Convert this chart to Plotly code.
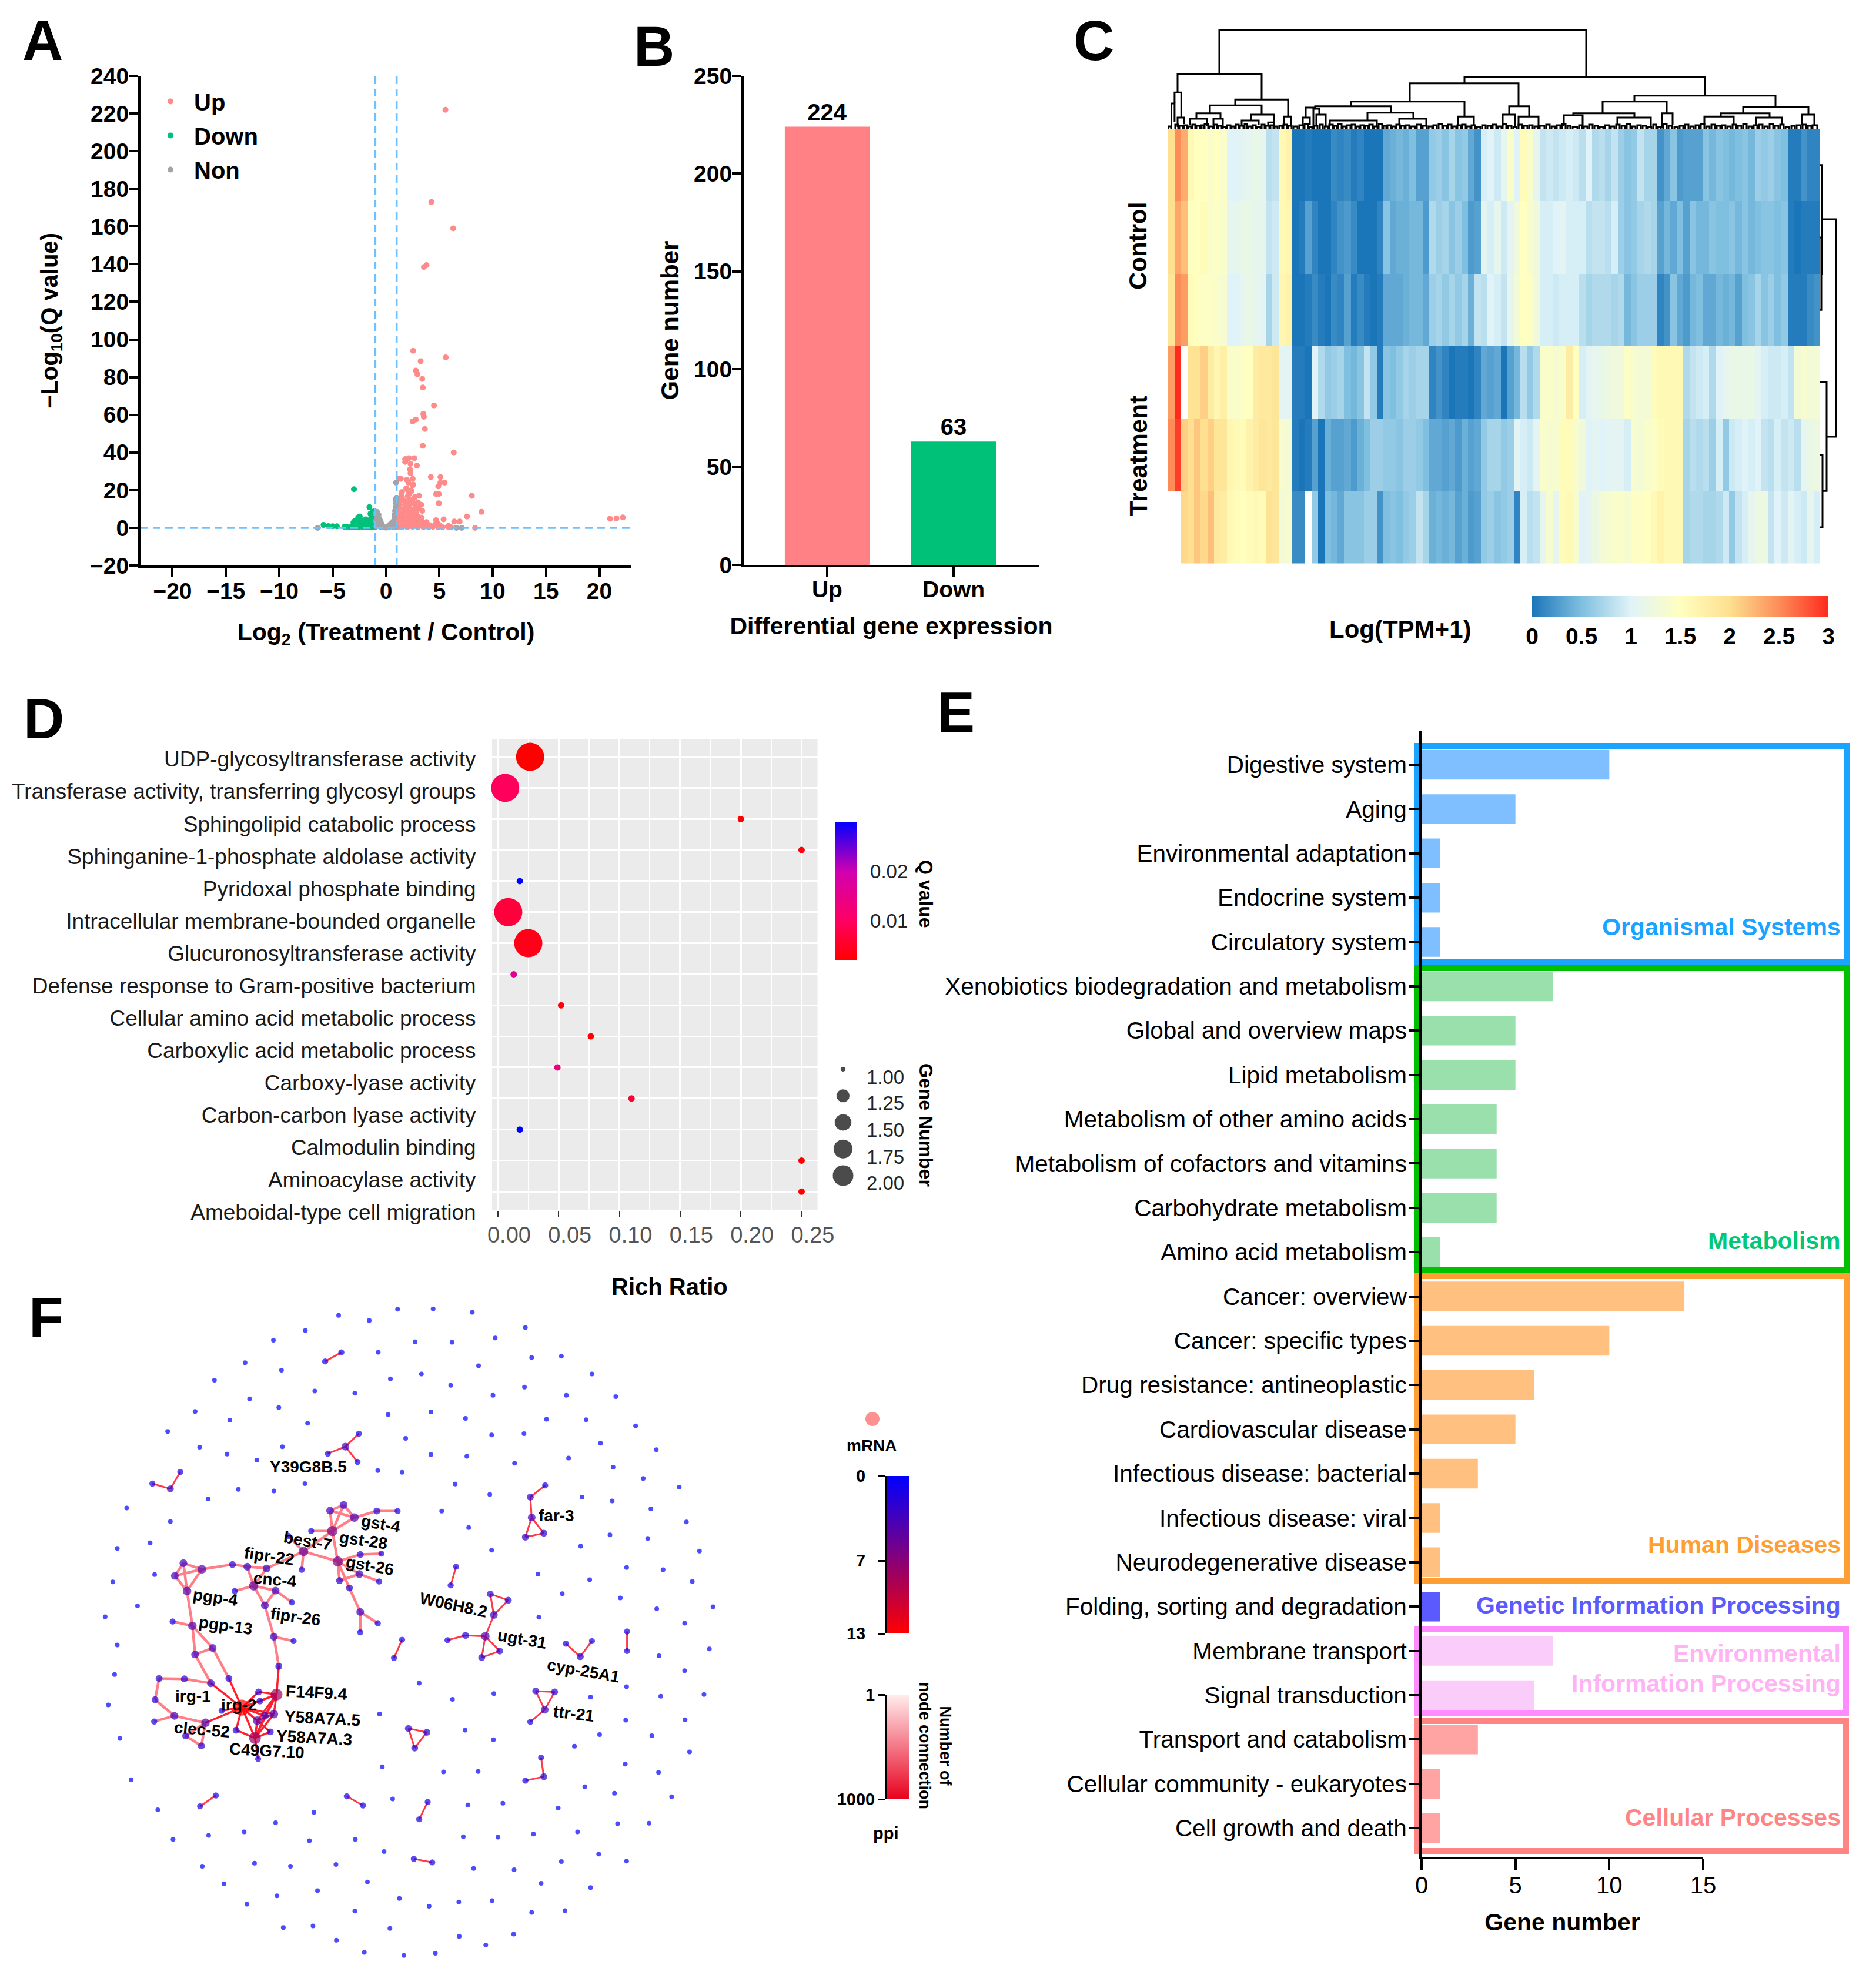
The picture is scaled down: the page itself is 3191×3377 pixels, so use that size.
"""Six-panel transcriptome figure: volcano, DEG bars, heatmap, GO bubbles, KEGG bars, PPI network."""

from collections import Counter

import plotly.graph_objects as go

W, H = 3191, 3377
FONT = "Liberation Sans"

# A: volcano, (log2 fold change, -log10 Q)
up_points = [
    (5.57, 222), (4.25, 173), (6.3, 159), (3.8, 139.5), (3.55, 138.5), (2.55, 94), (3.25, 88.5), (5.6, 90.5),
    (2.8, 83.5), (2.95, 81.5), (3.4, 79), (3.45, 74.5), (4.5, 65), (3.5, 60.5), (3.55, 59), (2.8, 57.5),
    (2.5, 56.5), (3.65, 52.5), (3.45, 43.5), (6.35, 40), (2.65, 37), (2.15, 37), (1.8, 36.5), (2.3, 34),
    (2.9, 33), (1.8, 35), (2.25, 31), (2.3, 29), (4.2, 27), (5.1, 27), (1.4, 26), (1.2, 26), (5.1, 24),
    (5.5, 24), (1.95, 25.5), (2.5, 26), (2.1, 24), (2.55, 23), (4.9, 22), (8.05, 17), (4.7, 18), (4.95, 18),
    (4.95, 13), (8.95, 8.5), (7.6, 6), (5.4, 4.5), (6.4, 3.3), (6.9, 3.3), (8.35, 0), (4.7, 4), (5.85, 1),
    (4.9, 2), (21.0, 4.8), (21.6, 5), (22.2, 5.5),
    (1.1, 0.3), (1.5, 0.4), (2.0, 0.3), (2.5, 0.5), (3.0, 0.3), (3.5, 0.4), (4.0, 0.3), (4.4, 0.5), (4.9, 0.4),
    (5.3, 0.3), (5.8, 0.6), (6.1, 0.3), (1.1, 1.8), (1.45, 2.1), (1.9, 1.7), (2.35, 2.2), (2.8, 1.9), (3.2, 1.6),
    (3.7, 2.0), (4.1, 1.4), (4.6, 1.7), (5.0, 1.3), (1.15, 3.9), (1.6, 4.2), (2.05, 3.8), (2.5, 4.1), (2.95, 3.7),
    (3.4, 3.3), (3.8, 3.0), (1.2, 6.0), (1.65, 5.8), (2.1, 6.2), (2.55, 5.7), (3.0, 6.1), (3.35, 5.4), (1.1, 8.1),
    (1.5, 7.8), (1.95, 8.3), (2.4, 7.9), (2.85, 8.2), (3.4, 9.0), (1.2, 10.2), (1.7, 9.9), (2.15, 10.3), (2.6, 9.8),
    (3.0, 10.4), (1.3, 12.1), (1.8, 12.4), (2.2, 12.0), (2.7, 12.5), (3.3, 12.2), (1.3, 14.2), (1.7, 14.5),
    (2.15, 14.1), (2.5, 15.0), (3.0, 13.5), (1.5, 16.5), (2.05, 16.8), (2.2, 18), (1.5, 19), (1.45, 18.2),
    (2.7, 16.3), (3.1, 17), (2.05, 20), (2.5, 22.5), (2.4, 19.5), (1.9, 21),
]
down_points = [
    (-1.05, 0.3), (-1.4, 0.4), (-1.8, 0.3), (-2.2, 0.4), (-2.6, 0.3), (-3, 0.4), (-3.4, 0.3), (-1.1, 1.8),
    (-1.5, 2), (-1.9, 1.7), (-2.3, 1.9), (-2.7, 1.5), (-3.05, 1.3), (-1.05, 3.5), (-1.4, 3.8), (-1.8, 3.3),
    (-2.2, 3.4), (-2.6, 3), (-1.1, 5), (-1.4, 5.2), (-1.9, 4.5), (-2.6, 5.5), (-2.45, 6), (-1.15, 7), (-1.45, 7.5),
    (-1.1, 8.8), (-1.25, 8.5), (-1.55, 11), (-3, 20.5), (-2.95, 3.5), (-3.05, 2.8), (-3.9, 0.5), (-3.7, 0.6),
    (-4.6, 0.8), (-5, 0.8), (-5.4, 0.9), (-5.85, 1.5),
]
non_points = [
    (-0.95, 7.5), (-0.85, 8.5), (-0.8, 7.5), (-0.7, 7), (-0.7, 5.5), (-0.85, 5), (-0.95, 3.5), (-0.6, 4.5),
    (-0.5, 3.5), (-0.8, 2.5), (-0.4, 2), (-0.6, 1.5), (-0.9, 0.8), (-0.3, 1), (-0.5, 0.4), (-0.2, 0.3), (0, 0.1),
    (0.15, 0.2), (0.3, 0.3), (0.2, 0.9), (0.4, 1.8), (0.55, 2.5), (0.6, 1), (0.7, 3.5), (0.8, 5.5), (0.85, 1.5),
    (0.8, 7), (0.85, 9), (0.9, 11), (0.95, 13), (0.95, 14.5), (1.0, 16), (0.9, 15), (0.95, 24), (0.9, 0.5),
    (0.7, 0.3), (-6.4, 0), (6.6, 0), (7.1, 0),
]

# B: DEG counts
deg_labels = ["Up", "Down"]
deg_counts = [224, 63]

# C: heatmap, one list per sample, blocks of genes left to right
control_1 = [
    2.0, 2.5, 2.3, 1.6, 1.5, 1.5, 1.4, 1.5, 1.4, 1.0,
    1.0, 1.05, 1.1, 1.15, 1.1, 0.8, 0.85, 1.6, 1.7, 0,
    0, 0.05, 0, 0, 0, 0.15, 0.1, 0.15, 0.05, 0.1,
    0, 0, 0, 0.35, 0.4, 0.45, 0.4, 0.5, 0.3, 0.3,
    0.6, 0.65, 0.55, 0.7, 0.55, 0.6, 0.35, 0.2, 0.95, 1.0,
    0.9, 1.1, 1.4, 1.0, 1.55, 1.4, 1.1, 0.85, 0.9, 0.85,
    0.9, 0.95, 0.9, 0.8, 1.0, 0.75, 0.8, 0.7, 0.85, 0.65,
    0.55, 0.6, 0.85, 0.7, 0.7, 0.2, 0.35, 0.55, 0.25, 0.3,
    0.3, 0.3, 0.55, 0.45, 0.55, 0.5, 0.45, 0.5, 0.55, 0.45,
    0.65, 0.6, 0.65, 0.55, 0.5, 0.05, 0.05, 0.2, 0.1, 0.1,
]
control_2 = [
    2.0, 2.35, 2.2, 1.5, 1.5, 1.55, 1.4, 1.45, 1.4, 1.1,
    1.1, 1.15, 1.15, 1.1, 1.1, 0.85, 0.9, 1.6, 1.65, 0,
    0.05, 0.3, 0.1, 0, 0, 0.1, 0.2, 0.25, 0.15, 0,
    0, 0, 0.1, 0.55, 0.35, 0.4, 0.4, 0.45, 0.45, 0.25,
    0.75, 0.65, 0.7, 0.55, 0.65, 0.5, 0.25, 0.3, 1.05, 0.95,
    1.1, 0.9, 1.05, 1.25, 1.5, 1.35, 1.25, 0.95, 0.95, 1.0,
    1.05, 0.95, 0.95, 0.95, 0.8, 0.85, 0.85, 0.8, 0.95, 0.65,
    0.55, 0.6, 0.7, 0.75, 0.7, 0.3, 0.45, 0.35, 0.5, 0.3,
    0.55, 0.45, 0.45, 0.55, 0.5, 0.5, 0.55, 0.45, 0.55, 0.45,
    0.5, 0.55, 0.55, 0.5, 0.55, 0.05, 0, 0.05, 0.05, 0.05,
]
control_3 = [
    1.9, 2.5, 2.4, 1.55, 1.5, 1.45, 1.45, 1.4, 1.35, 1.0,
    1.0, 1.1, 1.15, 1.1, 1.05, 0.7, 0.9, 1.65, 1.7, 0,
    0, 0.05, 0.15, 0.05, 0, 0.15, 0.1, 0.3, 0.05, 0.15,
    0.05, 0, 0.05, 0.35, 0.35, 0.35, 0.4, 0.45, 0.45, 0.35,
    0.65, 0.7, 0.6, 0.7, 0.6, 0.7, 0.4, 0.85, 0.8, 1.0,
    0.95, 0.85, 1.1, 1.3, 1.5, 1.45, 1.25, 0.95, 0.95, 0.9,
    0.95, 0.95, 0.95, 0.8, 0.7, 0.75, 0.75, 0.75, 0.7, 0.75,
    0.45, 0.55, 0.65, 0.65, 0.65, 0.1, 0.2, 0.55, 0.35, 0.25,
    0.45, 0.5, 0.35, 0.35, 0.45, 0.4, 0.45, 0.3, 0.5, 0.55,
    0.7, 0.55, 0.65, 0.5, 0.6, 0.05, 0.05, 0.05, 0.15, 0.2,
]
treatment_1 = [
    2.4, 3.0, None, 1.95, 1.95, 2.1, 1.8, 1.65, 1.75, 1.4,
    1.4, 1.45, 1.5, 1.8, 1.85, 1.85, 1.9, 1.05, 1.05, 0.05,
    0.05, 0, 1.0, 0.75, 0.6, 0.65, 0.7, 0.5, 0.45, 0.55,
    0.85, 0.6, 0.05, 0.55, 0.5, 0.6, 0.7, 0.65, 0.7, 0.7,
    0.1, 0.2, 0.1, 0, 0.05, 0.05, 0, 0.1, 0.35, 0.3,
    0.35, 0, 0.3, 0.45, 0.8, 0.6, 0.75, 1.4, 1.4, 1.35,
    1.4, 1.8, 1.5, 0.95, 1.05, 1.1, 1.15, 1.2, 1.25, 1.25,
    1.45, 1.35, 1.3, 1.3, 1.55, 1.6, 1.6, 1.6, 1.6, 0.75,
    0.85, 0.9, 0.95, 0.75, 1.0, 1.1, 1.15, 1.15, 1.15, 1.15,
    1.05, 0.95, 0.9, 0.9, 0.95, 0.85, 1.3, 1.35, 1.3, 1.3,
]
treatment_2 = [
    2.5, 2.9, 2.1, 2.0, 2.15, 2.0, 2.1, 1.9, 1.9, 1.65,
    1.6, 1.55, 1.7, 1.8, 1.9, 1.85, 1.9, 1.35, 1.3, 0.05,
    0, 0.05, 0.3, 0, 0.4, 0.3, 0.3, 0.35, 0.25, 0.4,
    0.5, 0.65, 0.65, 0.6, 0.6, 0.55, 0.65, 0.65, 0.6, 0.5,
    0.35, 0.35, 0.3, 0.35, 0.25, 0.4, 0.3, 0.35, 0.6, 0.7,
    0.7, 0.6, 0.65, 1.05, 0.95, 0.9, 1.05, 1.4, 1.35, 1.35,
    1.55, 1.55, 1.35, 1.25, 1.0, 1.05, 1.0, 1.05, 1.05, 1.05,
    0.95, 1.35, 1.3, 1.4, 1.45, 1.55, 1.6, 1.6, 1.6, 0.7,
    0.8, 0.75, 0.8, 0.65, 0.95, 0.6, 0.9, 0.95, 1.0, 0.95,
    1.0, 0.85, 0.8, 0.95, 0.85, 0.9, 0.8, 1.1, 1.15, 1.2,
]
treatment_3 = [
    None, None, 2.05, 2.0, 2.15, 2.05, 2.2, 1.85, 1.8, 1.6,
    1.55, 1.5, 1.55, 1.6, 1.55, 1.95, 1.9, 1.3, 1.35, 0.15,
    0.15, None, 0.6, 0, 0.5, 0.45, 0.35, 0.55, 0.55, 0.55,
    0.65, 0.65, 0.2, 0.5, 0.55, 0.5, 0.6, 0.65, 0.85, 0.7,
    0.4, 0.45, 0.4, 0.45, 0.3, 0.4, 0.25, 0.3, 0.6, 0.65,
    0.55, 0.6, 0.65, 0.1, 0.95, 0.8, 0.85, 1.1, 1.35, 1.1,
    1.55, 1.6, 1.35, 1.0, 1.05, 1.2, 1.3, 1.35, 1.4, 1.4,
    1.35, 1.45, 1.45, 1.5, 1.6, 1.7, 1.6, 1.6, 1.6, 0.7,
    0.75, 0.75, 0.7, 0.7, 0.75, 0.9, 0.6, 0.85, 0.95, 1.1,
    1.2, 1.2, 0.85, 1.0, 0.9, 1.05, 0.95, 0.9, 1.1, 0.95,
]
samples = ["Control 1", "Control 2", "Control 3", "Treatment 1", "Treatment 2", "Treatment 3"]
heat_ticks = [0, 0.5, 1, 1.5, 2, 2.5, 3]

# C: gene dendrogram, (left leaf pos, right leaf pos, left height, right height, merge height)
gene_merges = [
    (87, 711, 93, 88, 168), (16, 159, 61.7, 49.7, 93), (10.9, 22.3, 43, 19, 61.7), (5.5, 10.9, 2, 12, 43),
    (16, 27, 3, 8, 19), (114, 204, 39.7, 20.7, 49.7), (71, 159, 26.3, 24, 39.7), (197, 209, 4, 6, 20.7),
    (48, 89, 17, 17, 26.3), (141, 180, 14, 10.7, 24), (37, 66, 6, 5, 17), (77, 93, 7, 4, 17), (125, 154, 5, 6, 14),
    (170, 180, 4, 4, 10.7), (504, 913, 77.3, 56.3, 88), (411, 596, 46.3, 38.3, 77.3), (311, 504, 38.3, 20.7, 46.3),
    (250, 379, 36, 27.3, 38.3), (234, 250, 19, 34, 36), (229, 241, 4, 6, 19), (247, 257, 2, 24, 34),
    (252, 268, 6, 5, 24), (339, 417, 14, 17, 27.3), (275, 355, 5, 5, 14), (393, 439, 6, 6, 17), (493, 520, 6, 6, 20.7),
    (580, 614, 24, 20.7, 38.3), (569, 590, 5, 5, 24), (596, 630, 5, 5, 20.7), (793, 1033, 46.3, 36.7, 56.3),
    (739, 848, 26.3, 26.3, 46.3), (689, 793, 23, 19, 26.3), (673, 705, 5, 5, 23), (764, 821, 6, 5, 19),
    (840, 858, 1, 6, 26.3), (978, 1089, 26.3, 24, 36.7), (940, 1023, 20.7, 19, 26.3), (1078, 1099, 7, 7, 24),
    (912, 962, 6, 6, 20.7), (1000, 1044, 6, 6, 19),
]
gene_leaves = [
    (0, 5, 4), (12, 17, 7), (19, 25, 5), (27, 32, 6), (34, 39, 4), (41, 46, 7), (48, 54, 5), (56, 60, 6), (62, 68, 8),
    (70, 76, 4), (78, 83, 7), (85, 91, 5), (93, 98, 3), (100, 106, 6), (108, 113, 4), (115, 120, 7), (122, 128, 5),
    (130, 134, 8), (136, 142, 4), (144, 149, 6), (151, 157, 3), (159, 164, 7), (166, 172, 5), (174, 179, 6),
    (181, 186, 4), (189, 194, 5), (196, 202, 7), (204, 210, 5), (213, 220, 4), (223, 230, 6), (232, 238, 8),
    (240, 245, 3), (248, 254, 5), (258, 263, 7), (266, 272, 4), (274, 280, 7), (282, 287, 5), (289, 295, 8),
    (297, 302, 4), (304, 310, 6), (312, 318, 7), (320, 325, 4), (327, 333, 6), (335, 340, 5), (342, 348, 7),
    (350, 356, 4), (358, 364, 8), (366, 371, 5), (373, 379, 6), (381, 386, 4), (388, 394, 7), (396, 402, 5),
    (404, 410, 6), (413, 420, 4), (423, 430, 7), (433, 440, 5), (443, 449, 4), (451, 457, 6), (460, 466, 8),
    (468, 474, 5), (476, 482, 7), (484, 490, 4), (492, 498, 6), (500, 506, 7), (508, 514, 4), (516, 522, 6),
    (525, 531, 3), (534, 540, 6), (543, 549, 5), (552, 558, 7), (561, 567, 4), (569, 575, 8), (578, 584, 5),
    (587, 593, 3), (596, 602, 7), (605, 611, 5), (614, 620, 6), (623, 629, 4), (632, 640, 5), (643, 649, 7),
    (652, 658, 4), (661, 667, 6), (670, 676, 8), (679, 684, 5), (688, 696, 3), (699, 704, 6), (707, 713, 4),
    (716, 722, 7), (725, 731, 5), (734, 740, 3), (743, 750, 6), (753, 759, 4), (762, 768, 7), (771, 777, 5),
    (780, 786, 8), (789, 795, 4), (798, 804, 6), (807, 813, 5), (816, 822, 3), (825, 830, 7), (833, 838, 3),
    (842, 848, 8), (851, 857, 5), (861, 867, 3), (870, 876, 5), (879, 885, 7), (888, 894, 4), (897, 903, 6),
    (906, 912, 8), (915, 921, 4), (924, 930, 7), (933, 939, 5), (942, 948, 6), (951, 957, 4), (960, 966, 7),
    (969, 975, 5), (978, 984, 8), (987, 993, 4), (996, 1002, 6), (1005, 1011, 7), (1014, 1020, 4), (1023, 1029, 8),
    (1032, 1038, 5), (1041, 1047, 7), (1050, 1056, 3), (1060, 1066, 5), (1069, 1076, 6), (1079, 1085, 7),
    (1088, 1094, 5), (1096, 1104, 6),
]
# C: sample dendrogram, (left distance, right distance, upper row, lower row, merge distance)
sample_merges = [
    (0, 0, 1, 2, 2), (0, 2, 0, 1.5, 3.5), (0, 0, 4, 5, 4), (0, 4, 3, 4.5, 11), (3.5, 11, 0.75, 3.75, 27),
]

# D: GO enrichment bubbles
go_terms = [
    "UDP-glycosyltransferase activity", "Transferase activity, transferring glycosyl groups",
    "Sphingolipid catabolic process", "Sphinganine-1-phosphate aldolase activity", "Pyridoxal phosphate binding",
    "Intracellular membrane-bounded organelle", "Glucuronosyltransferase activity",
    "Defense response to Gram-positive bacterium", "Cellular amino acid metabolic process",
    "Carboxylic acid metabolic process", "Carboxy-lyase activity", "Carbon-carbon lyase activity",
    "Calmodulin binding", "Aminoacylase activity", "Ameboidal-type cell migration",
]
rich_ratio = [0.0265, 0.006, 0.2, 0.25, 0.018, 0.0085, 0.025, 0.013, 0.052, 0.0765, 0.049, 0.11, 0.018, 0.25, 0.25]
go_q = [0.002, 0.0095, 0.002, 0.003, 0.03, 0.007, 0.004, 0.016, 0.003, 0.002, 0.014, 0.006, 0.03, 0.002, 0.002]
go_genes = [2, 2, 1, 1, 1, 2, 2, 1, 1, 1, 1, 1, 1, 1, 1]
rich_ticks = [0, 0.05, 0.1, 0.15, 0.2, 0.25]
size_key = [1.0, 1.25, 1.5, 1.75, 2.0]

# E: KEGG pathway counts
kegg_terms = [
    "Digestive system", "Aging", "Environmental adaptation", "Endocrine system", "Circulatory system",
    "Xenobiotics biodegradation and metabolism", "Global and overview maps", "Lipid metabolism",
    "Metabolism of other amino acids", "Metabolism of cofactors and vitamins", "Carbohydrate metabolism",
    "Amino acid metabolism", "Cancer: overview", "Cancer: specific types", "Drug resistance: antineoplastic",
    "Cardiovascular disease", "Infectious disease: bacterial", "Infectious disease: viral",
    "Neurodegenerative disease", "Folding, sorting and degradation", "Membrane transport", "Signal transduction",
    "Transport and catabolism", "Cellular community - eukaryotes", "Cell growth and death",
]
kegg_counts = [10, 5, 1, 1, 1, 7, 5, 5, 4, 4, 4, 1, 14, 10, 6, 5, 3, 1, 1, 1, 7, 6, 3, 1, 1]
kegg_groups = [5, 7, 7, 1, 2, 3]
kegg_colors = ["#7fbfff", "#99e0ad", "#ffc080", "#5a5aff", "#f9ccf9", "#ffa3a3"]

# F: PPI network, node positions are layout coordinates
isolated_nodes = [
    (622, 51), (753, 37), (832, 36), (919, 44), (690, 63), (548, 86), (1037, 79), (477, 108), (970, 103), (792, 112),
    (874, 113), (710, 136), (1051, 148), (1117, 145), (414, 160), (495, 177), (933, 167), (1185, 186), (346, 200),
    (806, 186), (737, 197), (871, 212), (1035, 216), (569, 225), (658, 230), (965, 235), (1128, 235), (1238, 238),
    (424, 243), (489, 263), (303, 272), (827, 273), (732, 279), (904, 288), (1084, 290), (1172, 291), (380, 292),
    (553, 299), (1282, 305), (242, 318), (771, 334), (962, 326), (1034, 323), (1204, 345), (313, 354), (497, 353),
    (1328, 360), (374, 370), (907, 375), (827, 371), (1133, 379), (440, 384), (1013, 391), (1232, 400), (709, 408),
    (763, 412), (547, 438), (881, 439), (1299, 426), (399, 451), (478, 455), (1379, 446), (958, 463), (1163, 469),
    (332, 473), (1230, 478), (151, 494), (1316, 496), (851, 501), (1395, 526), (248, 525), (911, 539), (1225, 556),
    (1309, 564), (203, 574), (1160, 582), (962, 591), (130, 587), (1424, 593), (213, 647), (1262, 631), (1343, 636),
    (1065, 646), (1180, 659), (120, 664), (1408, 663), (1119, 691), (175, 719), (1248, 701), (1454, 721), (1329, 726),
    (103, 744), (1067, 745), (1391, 759), (130, 809), (1334, 834), (1446, 818), (124, 877), (801, 897), (1391, 868),
    (1262, 905), (110, 947), (875, 934), (967, 921), (1182, 929), (1338, 927), (1434, 923), (713, 968), (1260, 982),
    (1392, 981), (903, 1005), (966, 1027), (1202, 1015), (1318, 1018), (136, 1024), (1146, 1042), (1402, 1055),
    (719, 1089), (1259, 1083), (1333, 1102), (855, 1101), (932, 1100), (161, 1119), (1169, 1135), (1235, 1150),
    (1362, 1158), (742, 1163), (909, 1177), (987, 1173), (1110, 1184), (220, 1188), (567, 1194), (1242, 1220),
    (1312, 1219), (482, 1218), (1153, 1239), (412, 1239), (1055, 1244), (333, 1247), (254, 1256), (899, 1250),
    (976, 1251), (557, 1259), (659, 1256), (723, 1284), (1200, 1290), (1262, 1306), (1117, 1307), (319, 1318),
    (435, 1311), (515, 1318), (616, 1314), (922, 1323), (1012, 1326), (1072, 1357), (1182, 1367), (367, 1358),
    (686, 1354), (485, 1386), (575, 1374), (757, 1392), (418, 1405), (889, 1400), (963, 1397), (823, 1410), (658, 1421),
    (1051, 1424), (1125, 1420), (499, 1459), (565, 1455), (736, 1461), (1011, 1474), (890, 1479), (617, 1488),
    (949, 1499), (679, 1516), (767, 1523), (837, 1518),
]
edges_small = [
    ((592, 157), (628, 136)), ((598, 369), (637, 353)), ((637, 353), (667, 323)), ((637, 353), (664, 388)),
    ((208, 438), (248, 450)), ((248, 450), (270, 411)), ((1081, 442), (1048, 469)), ((1048, 469), (1051, 516)),
    ((1051, 516), (1037, 561)), ((1051, 516), (1078, 552)), ((1037, 561), (1078, 552)), ((883, 629), (871, 672)),
    ((959, 692), (999, 706)), ((959, 692), (967, 740)), ((999, 706), (967, 740)), ((967, 740), (948, 789)),
    ((948, 789), (904, 787)), ((904, 787), (864, 798)), ((948, 789), (940, 838)), ((948, 789), (980, 823)),
    ((940, 838), (980, 823)), ((763, 797), (745, 839)), ((1127, 806), (1159, 836)), ((1185, 800), (1159, 836)),
    ((1263, 778), (1263, 823)), ((1060, 915), (1102, 917)), ((1060, 915), (1080, 958)), ((1102, 917), (1080, 958)),
    ((1080, 958), (1048, 986)), ((777, 1001), (818, 1010)), ((777, 1001), (791, 1046)), ((818, 1010), (791, 1046)),
    ((1072, 1068), (1078, 1112)), ((1078, 1112), (1037, 1121)), ((349, 1155), (314, 1180)), ((640, 1157), (676, 1178)),
    ((820, 1170), (801, 1210)), ((789, 1301), (830, 1309)),
]
edges_module = [
    ((603, 500), (633, 487)), ((603, 500), (657, 516)), ((633, 487), (657, 516)), ((603, 500), (608, 547)),
    ((633, 487), (608, 547)), ((657, 516), (608, 547)), ((657, 516), (707, 501)), ((707, 501), (753, 501)),
    ((561, 547), (608, 547)), ((608, 547), (544, 594)), ((608, 547), (620, 617)), ((544, 594), (620, 617)),
    ((544, 594), (510, 558)), ((544, 594), (540, 636)), ((544, 594), (462, 633)), ((620, 617), (670, 601)),
    ((670, 601), (717, 599)), ((620, 617), (668, 646)), ((668, 646), (712, 663)), ((620, 617), (624, 661)),
    ((624, 661), (668, 646)), ((620, 617), (646, 678)), ((646, 678), (670, 733)), ((670, 733), (709, 759)),
    ((670, 733), (670, 780)), ((462, 633), (419, 629)), ((419, 629), (386, 624)), ((386, 624), (318, 635)),
    ((318, 635), (277, 621)), ((277, 621), (258, 650)), ((258, 650), (318, 635)), ((277, 621), (285, 685)),
    ((258, 650), (285, 685)), ((318, 635), (285, 685)), ((285, 685), (297, 765)), ((253, 755), (297, 765)),
    ((419, 629), (433, 673)), ((462, 633), (433, 673)), ((391, 685), (433, 673)), ((433, 673), (482, 684)),
    ((482, 684), (518, 711)), ((433, 673), (458, 718)), ((482, 684), (458, 718)), ((458, 718), (478, 790)),
    ((478, 790), (522, 800)), ((478, 790), (489, 858)), ((297, 765), (303, 831)), ((297, 765), (342, 816)),
    ((303, 831), (342, 816)), ((303, 831), (338, 897)), ((342, 816), (378, 886)), ((338, 897), (279, 887)),
    ((279, 887), (223, 886)), ((223, 886), (214, 935)), ((214, 935), (257, 972)), ((257, 972), (212, 985)),
    ((257, 972), (326, 988)), ((326, 988), (282, 1018)), ((282, 1018), (317, 1041)), ((326, 988), (317, 1041)),
]
edges_core = [
    ((489, 858), (484, 923)), ((378, 886), (407, 953)), ((338, 897), (407, 953)), ((326, 988), (407, 953)),
    ((362, 960), (407, 953)), ((394, 1005), (407, 953)), ((407, 953), (444, 917)), ((407, 953), (447, 938)),
    ((407, 953), (484, 923)), ((407, 953), (478, 968)), ((407, 953), (458, 972)), ((407, 953), (441, 983)),
    ((407, 953), (470, 1009)), ((407, 953), (436, 1023)), ((444, 917), (484, 923)), ((484, 923), (441, 983)),
    ((484, 923), (458, 972)), ((484, 923), (478, 968)), ((484, 923), (436, 1023)), ((441, 983), (436, 1023)),
    ((458, 972), (436, 1023)), ((478, 968), (436, 1023)), ((470, 1009), (436, 1023)), ((394, 1005), (436, 1023)),
    ((436, 1023), (443, 1071)), ((441, 983), (478, 968)), ((447, 938), (484, 923)),
]
net_labels = ["Y39G8B.5", "far-3", "gst-4", "gst-28", "best-7", "fipr-22", "gst-26", "cnc-4", "pgp-4", "fipr-26", "pgp-13",
              "W06H8.2", "ugt-31", "cyp-25A1", "ttr-21", "F14F9.4", "irg-1", "irg-2", "Y58A7A.5", "Y58A7A.3", "clec-52",
              "C49G7.10"]
net_label_x = [555, 1106, 715, 677, 553, 468, 691, 481, 348, 527, 371, 877, 1029, 1166, 1144, 573, 299, 401, 586, 568, 318, 463]
net_label_y = [400, 511, 531, 568, 570, 605, 626, 659, 700, 744, 764, 717, 796, 869, 967, 918, 926, 947, 978, 1023, 1003, 1052]
net_label_angle = [0, 0, 10, 8, 10, 8, 10, 5, 8, 8, 8, 12, 10, 10, 7, 3, 0, 0, 3, 3, 5, 3]
degree_scale = list(range(14))
score_scale = [1, 100, 200, 300, 400, 500, 600, 700, 800, 900, 1000]


def dom_x(left, right):
    return [left / W, right / W]


def dom_y(top, bottom):
    return [1 - bottom / H, 1 - top / H]


def text_font(size, bold=True, color="black"):
    return dict(family=FONT, size=size, color=color, weight=700 if bold else 400)


def split(points):
    return [p[0] for p in points], [p[1] for p in points]


def merge_lines(merges):
    xs, ys = [], []
    for xl, xr, yl, yr, top in merges:
        xs += [xl, xl, xr, xr, None]
        ys += [yl, top, top, yr, None]
    return xs, ys


def edge_lines(edges):
    xs, ys = [], []
    for a, b in edges:
        xs += [a[0], b[0], None]
        ys += [a[1], b[1], None]
    return xs, ys


fig = go.Figure()


def note(text, x, y, size, bold=True, angle=0, color="black", anchor="center"):
    fig.add_annotation(
        text=text, x=x / W, y=1 - y / H, xref="paper", yref="paper", showarrow=False, textangle=angle,
        font=text_font(size, bold, color), xanchor=anchor, yanchor="middle",
    )


black_axis = dict(
    showline=True, linecolor="black", linewidth=4, ticks="outside", tickcolor="black", tickwidth=4, ticklen=16,
    showgrid=False, zeroline=False, tickfont=text_font(39),
)
hidden = dict(visible=False, showgrid=False, zeroline=False)

# ---- A
for name, pts, color in [("Up", up_points, "#ff8a8a"), ("Down", down_points, "#00c17c"), ("Non", non_points, "#a3a3a8")]:
    px, py = split(pts)
    fig.add_trace(go.Scatter(x=px, y=py, mode="markers", name=name, legendgroup=name, cliponaxis=False,
                             marker=dict(color=color, size=10)))
for lx, ly in [([-1, -1], [-20, 240]), ([1, 1], [-20, 240]), ([-23, 23], [0, 0])]:
    fig.add_trace(go.Scatter(x=lx, y=ly, mode="lines", showlegend=False, hoverinfo="skip",
                             line=dict(color="#6ec1ff", width=3.5, dash="13px,8px")))

# ---- B
fig.add_trace(go.Bar(x=deg_labels, y=deg_counts, marker=dict(color=["#ff8085", "#00c178"], line_width=0), width=0.67,
                     text=deg_counts, textposition="outside", textfont=text_font(40), cliponaxis=False,
                     showlegend=False, xaxis="x2", yaxis="y2"))

# ---- C
heat_stops = [[0, "#1b75b9"], [0.5 / 3, "#7fbfdf"], [1 / 3, "#e0f3f8"], [0.5, "#ffffbf"], [2 / 3, "#fee090"],
              [2.5 / 3, "#fc8d59"], [1, "#ff2a1e"]]
fig.add_trace(go.Heatmap(
    z=[control_1, control_2, control_3, treatment_1, treatment_2, treatment_3], y=list(range(len(samples))),
    x=list(range(100)), zmin=0, zmax=3, colorscale=heat_stops, xaxis="x3", yaxis="y3",
    colorbar=dict(orientation="h", x=2606 / W, xanchor="left", y=1 - 1014 / H, yanchor="top", lenmode="pixels", len=504,
                  thicknessmode="pixels", thickness=35, xpad=0, ypad=0, outlinewidth=0, tickvals=heat_ticks,
                  ticktext=[str(t) for t in heat_ticks], ticks="", tickfont=text_font(39)),
))
dx, dy = merge_lines(gene_merges + [(a, b, 0, 0, t) for a, b, t in gene_leaves])
fig.add_trace(go.Scatter(x=dx, y=dy, mode="lines", line=dict(color="black", width=3), showlegend=False,
                         hoverinfo="skip", xaxis="x4", yaxis="y4"))
sx = []
sy = []
for dl, dr, ru, rl, top in sample_merges:
    sx += [dl, top, top, dr, None]
    sy += [ru, ru, rl, rl, None]
fig.add_trace(go.Scatter(x=sx, y=sy, mode="lines", line=dict(color="black", width=3), showlegend=False,
                         hoverinfo="skip", xaxis="x5", yaxis="y5"))

# ---- D
q_stops = [[0, "#ff0000"], [0.286, "#ff0062"], [0.643, "#d000b0"], [1, "#0000ff"]]
fig.add_trace(go.Scatter(
    x=rich_ratio, y=go_terms, mode="markers", showlegend=False, xaxis="x6", yaxis="y6", cliponaxis=False,
    marker=dict(size=[48 if g == 2 else 11 for g in go_genes], color=go_q, cmin=0.002, cmax=0.03, colorscale=q_stops,
                line_width=0, opacity=1,
                colorbar=dict(x=1420 / W, xanchor="left", y=1 - 1634 / H, yanchor="bottom", lenmode="pixels", len=236,
                              thicknessmode="pixels", thickness=38, xpad=0, ypad=0, outlinewidth=0,
                              tickvals=[0.01, 0.02], ticktext=["0.01", "0.02"], ticks="outside", tickcolor="white",
                              ticklen=16, tickfont=text_font(33, False, "#222222"))),
))
fig.add_trace(go.Scatter(x=rich_ratio, y=list(range(15)), mode="markers", marker=dict(opacity=0), showlegend=False,
                         hoverinfo="skip", xaxis="x7", yaxis="y7"))
fig.add_trace(go.Scatter(x=[0.5] * 5, y=size_key, mode="markers", showlegend=False, xaxis="x8", yaxis="y8", cliponaxis=False,
                         marker=dict(size=[9, 23, 29, 33, 36], color="black")))

# ---- E
kegg_bar_colors = [c for c, n in zip(kegg_colors, kegg_groups) for _ in range(n)]
fig.add_trace(go.Bar(x=kegg_counts, y=kegg_terms, orientation="h", width=0.67, cliponaxis=False, showlegend=False,
                     marker=dict(color=kegg_bar_colors, line_width=0), xaxis="x9", yaxis="y9"))

# ---- F
all_edges = edges_small + edges_module + edges_core
degree = Counter(p for e in all_edges for p in e)
for edges, color, width in [(edges_module, "#ff7f88", 4.5), (edges_small, "#ff3a48", 3), (edges_core, "#ff1f2f", 3.5)]:
    ex, ey = edge_lines(edges)
    fig.add_trace(go.Scatter(x=ex, y=ey, mode="lines", line=dict(color=color, width=width), showlegend=False,
                             hoverinfo="skip", xaxis="x10", yaxis="y10"))
nodes = isolated_nodes + sorted(degree, key=degree.get)
fig.add_trace(go.Scatter(
    x=[n[0] for n in nodes], y=[n[1] for n in nodes], mode="markers", showlegend=False, xaxis="x10", yaxis="y10",
    marker=dict(size=[8 if n not in degree else 9 + 1.4 * degree[n] for n in nodes],
                color=[degree.get(n, 0) for n in nodes], colorscale=[[0, "#0000ff"], [1, "#ff0000"]], cmin=0, cmax=13,
                line_width=0),
))
fig.add_trace(go.Heatmap(z=[[v, v] for v in degree_scale], y=degree_scale, x=[0, 1], zsmooth="best", showscale=False,
                         colorscale=[[0, "#0000ff"], [1, "#ff0000"]], xaxis="x11", yaxis="y11"))
fig.add_trace(go.Heatmap(z=[[v, v] for v in score_scale], y=score_scale, x=[0, 1], zsmooth="best", showscale=False,
                         colorscale=[[0, "#ffecec"], [1, "#e8001e"]], xaxis="x12", yaxis="y12"))

tiny_axis = dict(black_axis, linewidth=3, tickwidth=3, ticklen=11, tickfont=text_font(29))
fig.update_layout(
    width=W, height=H, margin=dict(l=0, r=0, t=0, b=0, autoexpand=False), paper_bgcolor="white",
    plot_bgcolor="rgba(0,0,0,0)", font=dict(family=FONT, color="black"),
    legend=dict(x=250 / W, y=1 - 140 / H, xanchor="left", yanchor="top", font=text_font(40), itemwidth=70,
                tracegroupgap=3, traceorder="grouped", bgcolor="rgba(0,0,0,0)"),
    xaxis=dict(black_axis, domain=dom_x(239, 1074), range=[-23, 23], tickvals=list(range(-20, 21, 5)),
               ticklabelstandoff=-10,
               title=dict(text="Log<sub>2</sub> (Treatment / Control)", font=text_font(41), standoff=36)),
    yaxis=dict(black_axis, domain=dom_y(129, 962), range=[-20, 240], tickvals=list(range(-20, 241, 20)),
               ticklabelstandoff=-8,
               title=dict(text="−Log<sub>10</sub>(Q value)", font=text_font(40), standoff=43)),
    xaxis2=dict(black_axis, domain=dom_x(1265, 1767), range=[-0.66, 1.674], type="category", anchor="y2",
                ticklabelstandoff=-12,
                title=dict(text="Differential gene expression", font=text_font(41), standoff=29)),
    yaxis2=dict(black_axis, domain=dom_y(129, 961), range=[0, 250], tickvals=[0, 50, 100, 150, 200, 250], anchor="x2",
                ticklabelstandoff=-8,
                title=dict(text="Gene number", font=text_font(42), standoff=13)),
    xaxis3=dict(hidden, domain=dom_x(1987, 3096), range=[-0.5, 99.5], anchor="y3"),
    yaxis3=dict(hidden, domain=dom_y(219, 958.6), range=[5.5, -0.5], anchor="x3"),
    xaxis4=dict(hidden, domain=dom_x(1987, 3096), range=[0, 1109], anchor="y4"),
    yaxis4=dict(hidden, domain=dom_y(49, 219), range=[0, 170], anchor="x4"),
    xaxis5=dict(hidden, domain=dom_x(3096, 3136), range=[0, 40], anchor="y5"),
    yaxis5=dict(hidden, domain=dom_y(219, 958.6), range=[5.5, -0.5], anchor="x5"),
    xaxis6=dict(domain=dom_x(837, 1390.5), range=[-0.0048, 0.2631], anchor="y6", tickvals=rich_ticks, showticklabels=False,
                ticks="outside", ticklen=10, tickwidth=2, tickcolor="#333333", showgrid=True, gridcolor="white",
                gridwidth=3, zeroline=False, minor=dict(dtick=0.025, tick0=0, showgrid=True, gridcolor="white", gridwidth=2)),
    yaxis6=dict(domain=dom_y(1258, 2059), type="category", categoryorder="array", categoryarray=go_terms,
                range=[14.6, -0.56], anchor="x6", showticklabels=False, showgrid=True, gridcolor="white", gridwidth=3,
                zeroline=False),
    xaxis7=dict(domain=dom_x(856, 1409.5), range=[-0.0048, 0.2631], anchor="y7", tickvals=rich_ticks,
                ticktext=["0.00", "0.05", "0.10", "0.15", "0.20", "0.25"], showline=False, showgrid=False, zeroline=False,
                tickfont=text_font(38, False, "#555555"), ticks=""),
    yaxis7=dict(domain=dom_y(1264, 2075), range=[14.24, -0.5], anchor="x7", tickvals=list(range(15)), ticktext=go_terms,
                showline=False, showgrid=False, zeroline=False, tickfont=text_font(37, False, "#1a1a1a"), ticks="outside",
                ticklen=38, tickcolor="rgba(0,0,0,0)"),
    xaxis8=dict(hidden, domain=dom_x(1414, 1454), range=[0, 1], anchor="y8"),
    yaxis8=dict(hidden, domain=dom_y(1819, 2000), range=[2, 1], anchor="x8"),
    xaxis9=dict(black_axis, domain=dom_x(2418, 2897), range=[0, 15], anchor="y9", tickvals=[0, 5, 10, 15],
                tickfont=text_font(40, False), ticklen=18, ticklabelstandoff=-8,
                title=dict(text="Gene number", font=text_font(41), standoff=28)),
    yaxis9=dict(black_axis, domain=dom_y(1243, 3159), type="category", categoryorder="array", categoryarray=kegg_terms,
                range=[24.65, -0.77], anchor="x9", tickfont=text_font(40.5, False), ticklen=18, ticklabelstandoff=-5),
    xaxis10=dict(hidden, domain=dom_x(100, 1300), range=[0, 1568], anchor="y10"),
    yaxis10=dict(hidden, domain=dom_y(2200, 3360), range=[1568, 0], anchor="x10"),
    xaxis11=dict(hidden, domain=dom_x(1508, 1547), range=[0, 1], anchor="y11"),
    yaxis11=dict(tiny_axis, domain=dom_y(2511, 2779), range=[13, 0], tickvals=[0, 7, 13], anchor="x11",
                 ticklabelstandoff=16),
    xaxis12=dict(hidden, domain=dom_x(1508, 1547), range=[0, 1], anchor="y12"),
    yaxis12=dict(tiny_axis, domain=dom_y(2883, 3061), range=[1000, 1], tickvals=[1, 1000], anchor="x12"),
)

# grey panel behind the bubbles and the coloured pathway boxes
fig.add_shape(type="rect", xref="x6 domain", yref="y6 domain", x0=0, x1=1, y0=0, y1=1, fillcolor="#ebebeb",
              line_width=0, layer="below")
for x1, top, bottom, color in [
    (3142, 1269, 1636, "#1aa3ff"), (3142, 1647, 2161, "#00c000"), (3142, 2171, 2689, "#ff9e33"),
    (3140, 2771, 2914, "#ff8cff"), (3140, 2928, 3149, "#ff8585"),
]:
    fig.add_shape(type="rect", xref="paper", yref="paper", x0=2411 / W, x1=x1 / W, y0=1 - bottom / H, y1=1 - top / H,
                  line=dict(color=color, width=10), layer="below")
fig.add_shape(type="circle", xref="paper", yref="paper", x0=1472 / W, x1=1496 / W, y0=1 - 2426 / H, y1=1 - 2402 / H,
              fillcolor="#ff9090", line_width=0)

# panel letters
for letter, lx, ly in [("A", 72, 68), ("B", 1112, 78), ("C", 1861, 68), ("D", 74, 1222), ("E", 1626, 1212), ("F", 78, 2240)]:
    note(letter, lx, ly, 96)

# C text
note("Control", 1936, 419, 42, angle=-90)
note("Treatment", 1936, 775, 43, angle=-90)
note("Log(TPM+1)", 2381, 1070, 42)

# D text
note("Rich Ratio", 1139, 2189, 40)
note("Q value", 1575, 1521, 32, angle=90)
note("Gene Number", 1575, 1914, 32, angle=90)
for val, ly in zip(size_key, [1832, 1876, 1922, 1968, 2012]):
    note(f"{val:.2f}", 1472, ly, 33, bold=False, color="#222222", anchor="left")

# E text
for label, ly, color in [
    ("Organismal Systems", 1577, "#1aa3ff"), ("Metabolism", 2111, "#00c878"), ("Human Diseases", 2628, "#ff9e33"),
    ("Genetic Information Processing", 2731, "#5a5aff"), ("Environmental", 2813, "#ffb3f5"),
    ("Information Processing", 2864, "#ffb3f5"), ("Cellular Processes", 3092, "#ff8585"),
]:
    note(label, 3133, ly, 41, color=color, anchor="right")

# F text
for label, lx, ly, ang in zip(net_labels, net_label_x, net_label_y, net_label_angle):
    fig.add_annotation(text=label, x=lx, y=ly, xref="x10", yref="y10", showarrow=False, textangle=ang, font=text_font(28))
note("mRNA", 1483, 2459, 28)
note("ppi", 1507, 3119, 29)
note("Number of<br>node connection", 1591, 2970, 27, angle=90)

# the page has a default body margin, drop it so the figure sits at the window origin
fig.write_html("out.html", config={"displayModeBar": False}, post_script="document.body.style.margin = '0';")
